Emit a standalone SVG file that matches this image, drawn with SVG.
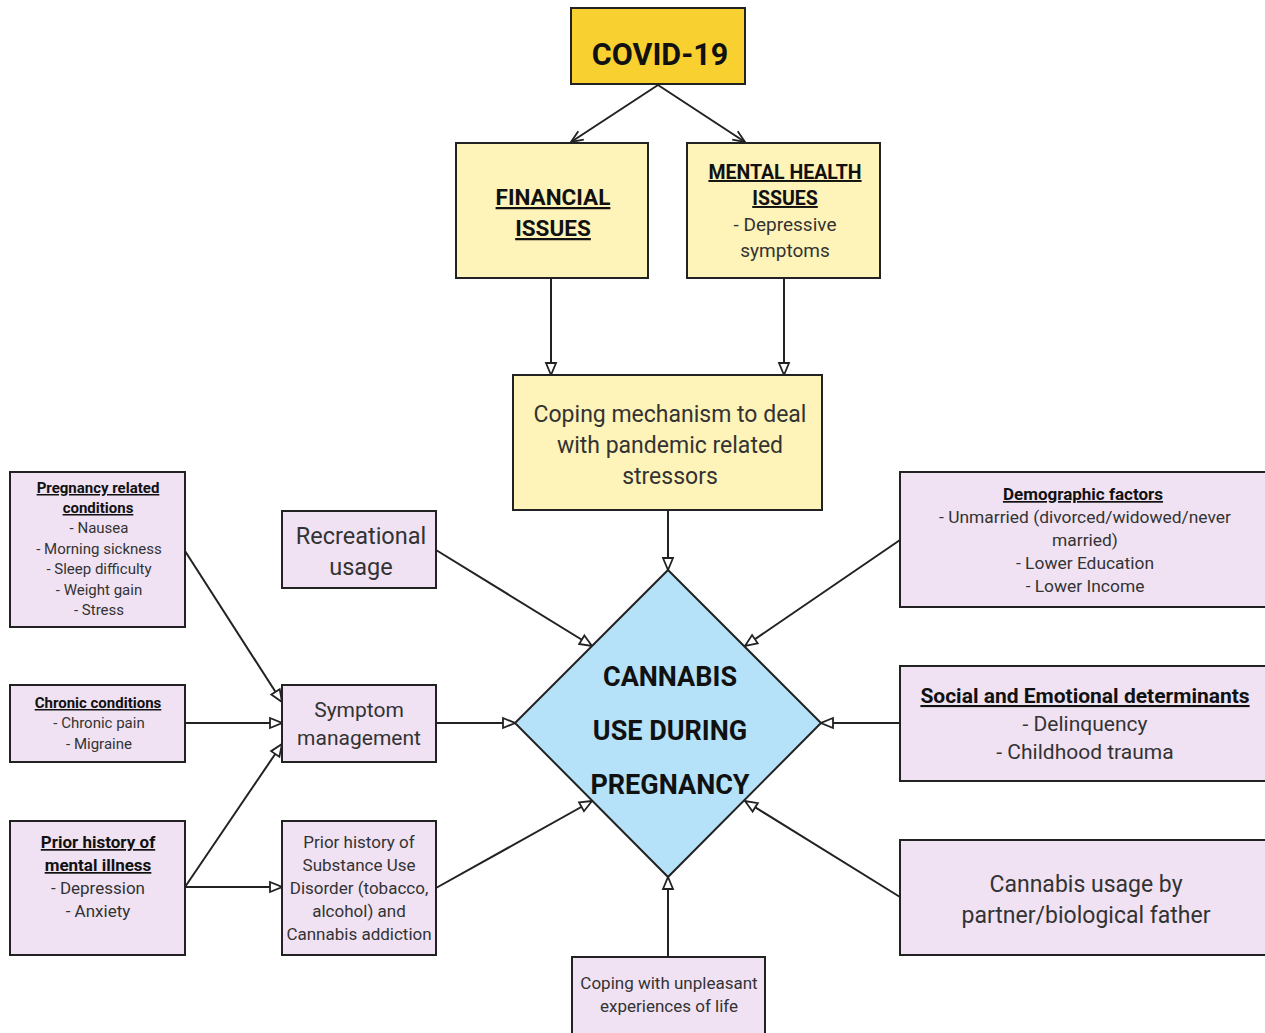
<svg xmlns="http://www.w3.org/2000/svg" width="1265" height="1033" viewBox="0 0 1265 1033">
<defs>
<style>
text{font-family:Roboto,"Liberation Sans",sans-serif;text-anchor:middle;}
.box{stroke:#222;stroke-width:2;}
.gold{fill:#F8D02F;}
.yel{fill:#FEF3B8;}
.pur{fill:#F0E2F3;}
.dia{fill:#B5E2F8;stroke:#222;stroke-width:2;}
.hd{font-weight:bold;fill:#111;}
.u{text-decoration:underline;}
.t{fill:#333;}
.c line,.c path{stroke:#222;stroke-width:2;fill:none;}
.a{marker-end:url(#tri);}
.v{marker-end:url(#vee);}
</style>
<marker id="tri" markerUnits="userSpaceOnUse" markerWidth="16" markerHeight="14" viewBox="0 0 16 14" refX="14" refY="7" orient="auto">
<path d="M2,2 L14,7 L2,12 Z" fill="#fff" stroke="#222" stroke-width="1.8"/>
</marker>
<marker id="vee" markerUnits="userSpaceOnUse" markerWidth="16" markerHeight="14" viewBox="0 0 16 14" refX="14" refY="7" orient="auto">
<path d="M2,2 L14,7 L2,12" fill="none" stroke="#222" stroke-width="1.8"/>
</marker>
</defs>
<rect width="1265" height="1033" fill="#fff"/>

<g class="c" id="connectors">
<line class="v" x1="658" y1="85" x2="571" y2="142"/>
<line class="v" x1="658" y1="85" x2="745" y2="142"/>
<line class="a" x1="551" y1="278" x2="551" y2="375"/>
<line class="a" x1="784" y1="278" x2="784" y2="375"/>
<line class="a" x1="668" y1="510" x2="668" y2="570"/>
<line class="a" x1="436" y1="550" x2="592" y2="646"/>
<line class="a" x1="900" y1="540" x2="745" y2="646"/>
<line class="a" x1="436" y1="723" x2="515" y2="723"/>
<line class="a" x1="900" y1="723" x2="821" y2="723"/>
<line class="a" x1="436" y1="888" x2="592" y2="801"/>
<line class="a" x1="900" y1="897" x2="745" y2="801"/>
<line class="a" x1="668" y1="957" x2="668" y2="877"/>
<line class="a" x1="185" y1="551" x2="282" y2="702"/>
<line class="a" x1="185" y1="723" x2="282" y2="723"/>
<line class="a" x1="185" y1="887" x2="282" y2="744"/>
<line class="a" x1="185" y1="887" x2="282" y2="887"/>
</g>

<g id="covid">
<rect class="box gold" x="571" y="8" width="174" height="76"/>
<text class="hd" x="660" y="65" font-size="30.5">COVID-19</text>
</g>

<g id="financial">
<rect class="box yel" x="456" y="143" width="192" height="135"/>
<text class="hd u" x="553" y="205" font-size="22.5">FINANCIAL</text>
<text class="hd u" x="553" y="236" font-size="22.5">ISSUES</text>
</g>

<g id="mental">
<rect class="box yel" x="687" y="143" width="193" height="135"/>
<text class="hd u" x="785" y="179" font-size="19.5">MENTAL HEALTH</text>
<text class="hd u" x="785" y="205" font-size="19.5">ISSUES</text>
<text class="t" x="785" y="231" font-size="19">- Depressive</text>
<text class="t" x="785" y="257" font-size="19">symptoms</text>
</g>

<g id="coping">
<rect class="box yel" x="513" y="375" width="309" height="135"/>
<text class="t" x="670" y="422" font-size="23">Coping mechanism to deal</text>
<text class="t" x="670" y="453" font-size="23">with pandemic related</text>
<text class="t" x="670" y="484" font-size="23">stressors</text>
</g>

<g id="cannabis">
<path class="dia" d="M668,570 L821,723 L668,877 L515,723 Z"/>
<text class="hd" x="670" y="686" font-size="27">CANNABIS</text>
<text class="hd" x="670" y="740" font-size="27">USE DURING</text>
<text class="hd" x="670" y="794" font-size="27">PREGNANCY</text>
</g>

<g id="pregnancy">
<rect class="box pur" x="10" y="472" width="175" height="155"/>
<text class="hd u" x="98" y="493" font-size="15">Pregnancy related</text>
<text class="hd u" x="98" y="513" font-size="15">conditions</text>
<text class="t" x="99" y="533" font-size="15">- Nausea</text>
<text class="t" x="99" y="554" font-size="15">- Morning sickness</text>
<text class="t" x="99" y="574" font-size="15">- Sleep difficulty</text>
<text class="t" x="99" y="595" font-size="15">- Weight gain</text>
<text class="t" x="99" y="615" font-size="15">- Stress</text>
</g>

<g id="recreational">
<rect class="box pur" x="282" y="511" width="154" height="77"/>
<text class="t" x="361" y="544" font-size="23.5">Recreational</text>
<text class="t" x="361" y="575" font-size="23.5">usage</text>
</g>

<g id="demographic">
<rect class="box pur" x="900" y="472" width="370" height="135"/>
<text class="hd u" x="1083" y="500" font-size="17">Demographic factors</text>
<text class="t" x="1085" y="523" font-size="17.4">- Unmarried (divorced/widowed/never</text>
<text class="t" x="1085" y="546" font-size="17.4">married)</text>
<text class="t" x="1085" y="569" font-size="17.4">- Lower Education</text>
<text class="t" x="1085" y="592" font-size="17.4">- Lower Income</text>
</g>

<g id="symptom">
<rect class="box pur" x="282" y="685" width="154" height="77"/>
<text class="t" x="359" y="717" font-size="21">Symptom</text>
<text class="t" x="359" y="745" font-size="21">management</text>
</g>

<g id="chronic">
<rect class="box pur" x="10" y="685" width="175" height="77"/>
<text class="hd u" x="98" y="708" font-size="15">Chronic conditions</text>
<text class="t" x="99" y="728" font-size="15">- Chronic pain</text>
<text class="t" x="99" y="749" font-size="15">- Migraine</text>
</g>

<g id="social">
<rect class="box pur" x="900" y="666" width="370" height="115"/>
<text class="hd u" x="1085" y="703" font-size="21">Social and Emotional determinants</text>
<text class="t" x="1085" y="731" font-size="21">- Delinquency</text>
<text class="t" x="1085" y="759" font-size="21">- Childhood trauma</text>
</g>

<g id="priormental">
<rect class="box pur" x="10" y="821" width="175" height="134"/>
<text class="hd u" x="98" y="848" font-size="17">Prior history of</text>
<text class="hd u" x="98" y="871" font-size="17">mental illness</text>
<text class="t" x="98" y="894" font-size="17">- Depression</text>
<text class="t" x="98" y="917" font-size="17">- Anxiety</text>
</g>

<g id="priorsud">
<rect class="box pur" x="282" y="821" width="154" height="134"/>
<text class="t" x="359" y="848" font-size="17">Prior history of</text>
<text class="t" x="359" y="871" font-size="17">Substance Use</text>
<text class="t" x="359" y="894" font-size="17">Disorder (tobacco,</text>
<text class="t" x="359" y="917" font-size="17">alcohol) and</text>
<text class="t" x="359" y="940" font-size="17">Cannabis addiction</text>
</g>

<g id="partner">
<rect class="box pur" x="900" y="840" width="370" height="115"/>
<text class="t" x="1086" y="892" font-size="23">Cannabis usage by</text>
<text class="t" x="1086" y="923" font-size="23">partner/biological father</text>
</g>

<g id="copingunpleasant">
<rect class="box pur" x="572" y="957" width="193" height="80"/>
<text class="t" x="669" y="989" font-size="17">Coping with unpleasant</text>
<text class="t" x="669" y="1012" font-size="17">experiences of life</text>
</g>
</svg>
